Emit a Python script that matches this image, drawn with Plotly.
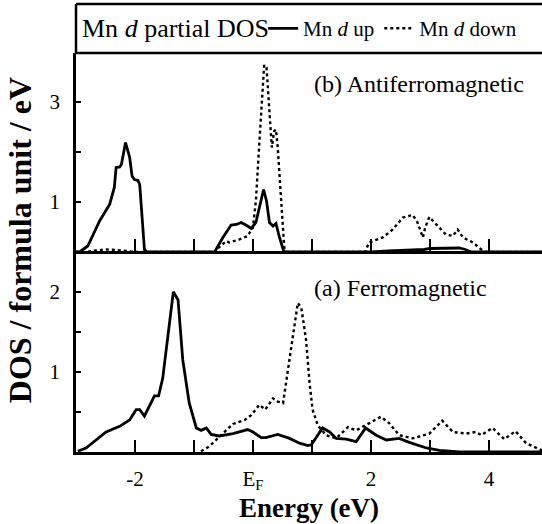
import plotly.graph_objects as go

# ---- data ----
# (b) Antiferromagnetic
afm_up_E = [-3.0, -2.94, -2.80, -2.60, -2.43, -2.35, -2.32, -2.26, -2.23, -2.16, -2.09, -2.05, -2.01, -1.95, -1.92,
            -1.84, -1.80, -0.65, -0.51, -0.37, -0.28, -0.20, -0.12, -0.03, 0.05, 0.11, 0.18, 0.23, 0.28, 0.34, 0.39,
            0.45, 0.52, 0.56, 2.0, 2.3, 2.6, 2.9, 3.0, 3.3, 3.5, 3.6, 3.7, 4.9]
afm_up = [0, 0, 0.12, 0.62, 0.95, 1.29, 1.69, 1.70, 1.75, 2.19, 1.89, 1.52, 1.45, 1.43, 1.35,
          0.05, 0, 0, 0.29, 0.54, 0.55, 0.59, 0.54, 0.47, 0.59, 0.89, 1.25, 1.02, 0.59, 0.52, 0.57,
          0.29, 0.02, 0, 0, 0.02, 0.03, 0.05, 0.07, 0.07, 0.08, 0.05, 0, 0]
afm_dn_E = [-3.0, -2.83, -2.66, -2.49, -2.32, -2.09, -1.98, -0.65, -0.62, -0.45, -0.40, -0.23, -0.09, 0.0, 0.05,
            0.11, 0.17, 0.19, 0.23, 0.28, 0.32, 0.36, 0.39, 0.42, 0.48, 0.53, 0.57, 1.90, 1.97, 2.20, 2.37, 2.54,
            2.71, 2.79, 2.88, 2.92, 2.99, 3.11, 3.27, 3.39, 3.47, 3.56, 3.73, 3.87, 3.92, 4.9]
afm_dn = [0, 0, 0.03, 0.05, 0.04, 0.02, 0, 0, 0.05, 0.22, 0.19, 0.25, 0.32, 0.49, 1.02,
          2.22, 3.55, 3.74, 3.69, 2.89, 2.09, 2.42, 2.45, 2.09, 1.02, 0.09, 0, 0, 0.19, 0.29, 0.45, 0.69,
          0.74, 0.59, 0.29, 0.49, 0.70, 0.55, 0.35, 0.32, 0.45, 0.29, 0.19, 0.05, 0, 0]

# (a) Ferromagnetic
fm_up_E = [-2.97, -2.83, -2.49, -2.26, -2.09, -1.98, -1.92, -1.84, -1.67, -1.60, -1.53, -1.44, -1.35, -1.27, -1.19,
           -1.08, -0.96, -0.88, -0.79, -0.71, -0.57, -0.34, -0.09, 0.0, 0.14, 0.22, 0.42, 0.62, 0.79, 0.93, 0.99,
           1.18, 1.30, 1.41, 1.58, 1.75, 1.91, 2.09, 2.26, 2.48, 2.65, 2.94, 3.16, 3.5, 4.9]
fm_up = [0.01, 0.05, 0.25, 0.32, 0.40, 0.53, 0.53, 0.45, 0.70, 0.70, 0.92, 1.48, 2.00, 1.90, 1.15,
         0.61, 0.30, 0.27, 0.30, 0.22, 0.20, 0.23, 0.28, 0.25, 0.18, 0.18, 0.22, 0.17, 0.11, 0.08, 0.09,
         0.30, 0.25, 0.17, 0.16, 0.13, 0.30, 0.21, 0.15, 0.17, 0.12, 0.05, 0.02, 0, 0]
fm_dn_E = [-0.88, -0.74, -0.57, -0.34, -0.14, -0.03, 0.11, 0.21, 0.34, 0.42, 0.51, 0.62, 0.76, 0.82, 0.90,
           0.96, 1.01, 1.10, 1.24, 1.41, 1.61, 1.75, 1.92, 2.17, 2.31, 2.48, 2.71, 2.99, 3.21, 3.39,
           3.61, 3.78, 3.87, 4.06, 4.26, 4.45, 4.63, 4.83, 4.9]
fm_dn = [0.01, 0.07, 0.19, 0.35, 0.40, 0.46, 0.59, 0.53, 0.67, 0.63, 0.61, 1.15, 1.86, 1.80, 1.40,
         0.86, 0.53, 0.33, 0.21, 0.17, 0.31, 0.27, 0.34, 0.44, 0.36, 0.21, 0.17, 0.23, 0.39, 0.25,
         0.23, 0.25, 0.21, 0.30, 0.16, 0.26, 0.11, 0.04, 0.02]

x_tickvals = [-2, -1, 0, 1, 2, 3, 4]
x_ticktext = ["-2", "", "E<sub>F</sub>", "", "2", "", "4"]
ya_tickvals = [0.5, 1, 1.5, 2]
ya_ticktext = ["", "1", "", "2"]
yb_tickvals = [1, 2, 3]
yb_ticktext = ["1", "", "3"]

FONT = "Liberation Serif"
BLACK = "black"

fig = go.Figure()
# panel (a): x / y
fig.add_trace(go.Scatter(x=fm_up_E, y=fm_up, mode="lines", name="Mn <i>d</i> up",
                         line=dict(color=BLACK, width=2.8), xaxis="x", yaxis="y", showlegend=True))
fig.add_trace(go.Scatter(x=fm_dn_E, y=fm_dn, mode="lines", name="Mn <i>d</i> down",
                         line=dict(color=BLACK, width=2.4, dash="dot"), xaxis="x", yaxis="y", showlegend=True))
# panel (b): x2 / y2
fig.add_trace(go.Scatter(x=afm_up_E, y=afm_up, mode="lines", name="up (b)",
                         line=dict(color=BLACK, width=2.8), xaxis="x2", yaxis="y2", showlegend=False))
fig.add_trace(go.Scatter(x=afm_dn_E, y=afm_dn, mode="lines", name="down (b)",
                         line=dict(color=BLACK, width=2.4, dash="dot"), xaxis="x2", yaxis="y2", showlegend=False))

dom_a = [0.0, 0.4487]
dom_b = [0.4487, 0.8906]

xcommon = dict(range=[-3.0, 4.9], showgrid=False, zeroline=False, showline=True, linecolor=BLACK, linewidth=2.5,
               ticks="inside", ticklen=12, tickwidth=1.5, tickcolor=BLACK, tickmode="array",
               tickvals=x_tickvals, ticktext=x_ticktext, automargin=False)
ycommon = dict(showgrid=False, zeroline=False, showline=True, linecolor=BLACK, linewidth=2.5,
               ticks="inside", ticklen=5, tickwidth=1.5, tickcolor=BLACK, tickfont=dict(size=21),
               ticklabelstandoff=9, automargin=False, tickmode="array")

fig.update_layout(
    width=542, height=524,
    margin=dict(l=76, r=0, t=4, b=72),
    paper_bgcolor="white", plot_bgcolor="white",
    font=dict(family=FONT, color=BLACK, size=21),
    showlegend=True,
    xaxis=dict(**xcommon, anchor="y", tickfont=dict(size=21), ticklabelstandoff=6,
               title=dict(text="<b>Energy (eV)</b>", font=dict(size=27), standoff=2)),
    xaxis2=dict(**xcommon, anchor="y2", matches="x", showticklabels=False),
    yaxis=dict(**ycommon, domain=dom_a, range=[0, 2.51], tickvals=ya_tickvals, ticktext=ya_ticktext),
    yaxis2=dict(**ycommon, domain=dom_b, range=[0.02, 3.98], tickvals=yb_tickvals, ticktext=yb_ticktext),
    legend=dict(orientation="h", x=0.4015, xanchor="left", y=0.945, yanchor="middle",
                font=dict(size=21, family=FONT), bgcolor="rgba(0,0,0,0)", borderwidth=0,
                itemwidth=30, tracegroupgap=0),
    annotations=[
        dict(text="Mn <i>d</i> partial DOS", x=0.009, y=0.945, xref="paper", yref="paper", xanchor="left",
             yanchor="middle", showarrow=False, font=dict(size=26)),
        dict(text="(b) Antiferromagnetic", x=1.0, y=3.36, xref="x2", yref="y2", xanchor="left",
             yanchor="middle", showarrow=False, font=dict(size=24)),
        dict(text="(a) Ferromagnetic", x=1.0, y=2.05, xref="x", yref="y", xanchor="left",
             yanchor="middle", showarrow=False, font=dict(size=24)),
        dict(text="<b>DOS / formula unit / eV</b>", x=-0.12, y=0.473, xref="paper", yref="paper",
             xanchor="center", yanchor="middle", textangle=-90, showarrow=False, font=dict(size=32)),
    ],
    shapes=[
        dict(type="line", xref="paper", yref="paper", x0=0, x1=1, y0=1, y1=1,
             line=dict(color=BLACK, width=2.5)),
        dict(type="line", xref="paper", yref="paper", x0=0, x1=1, y0=dom_b[1], y1=dom_b[1],
             line=dict(color=BLACK, width=2.5)),
        dict(type="line", xref="paper", yref="paper", x0=0, x1=0, y0=dom_b[1], y1=1,
             line=dict(color=BLACK, width=2.5)),
    ],
)

fig.write_html("out.html", config={"displayModeBar": False},
               post_script="document.body.style.margin='0';document.body.style.overflow='hidden';")
